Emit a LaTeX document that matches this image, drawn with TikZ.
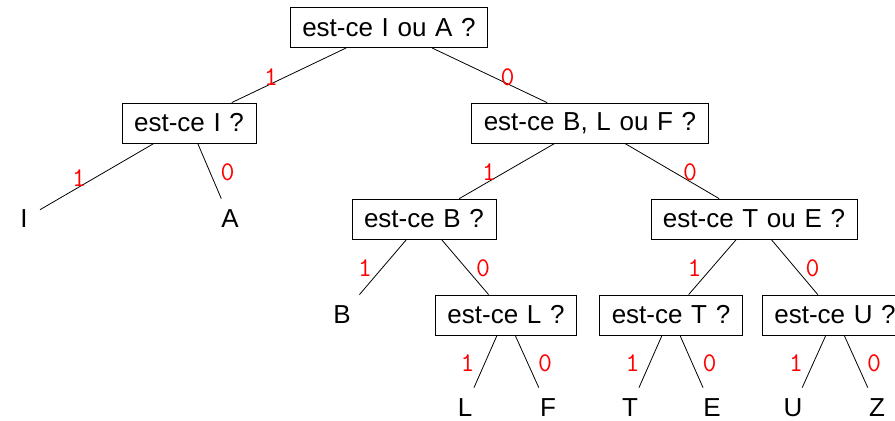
\documentclass[tikz,border=0pt]{standalone}
\usepackage{fontspec}
\setmainfont[WordSpace=1.2]{Liberation Sans}
\begin{document}
\begin{tikzpicture}[x=0.5pt, y=-0.5pt, font=\fontsize{13}{15}\selectfont,
		box/.style={draw, minimum height=20pt, inner xsep=6pt},
		leaf/.style={minimum height=20pt, inner xsep=6pt},
		bit/.style={text=red, font=\fontsize{13.5}{15}\selectfont\ttfamily, midway, yshift=-0.75pt}]
		\useasboundingbox (0,0) rectangle (895,420);
		% questions
		\node[box] (root) at (389,27.5) {est-ce I ou A~?};
		\node[box] (isI) at (189,123) {est-ce I~?};
		\node[box] (isBLF) at (590,123) {est-ce B, L ou F~?};
		\node[box] (isB) at (424,219) {est-ce B~?};
		\node[box] (isTE) at (754,219) {est-ce T ou E~?};
		\node[box] (isL) at (506,315) {est-ce L~?};
		\node[box] (isT) at (671,315) {est-ce T~?};
		\node[box] (isU) at (835,315) {est-ce U~?};
		% letters
		\node[leaf] (I) at (24,219) {I};
		\node[leaf] (A) at (230,219) {A};
		\node[leaf] (B) at (342,315) {B};
		\foreach \l/\x in {L/465, F/548, T/630, E/712, U/793, Z/877} {
			\node[leaf] (\l) at (\x,408) {\l};
		};
		% branches
		\foreach \u/\v in {root/isI, isI/I, isBLF/isB, isB/B, isTE/isT, isL/L, isT/T, isU/U} {
			\draw (\u) -- (\v) node[bit, xshift=-9pt] {1};
		};
		\foreach \u/\v in {root/isBLF, isI/A, isBLF/isTE, isB/isL, isTE/isU, isL/F, isT/E, isU/Z} {
			\draw (\u) -- (\v) node[bit, xshift=9pt] {0};
		};
\end{tikzpicture}
\end{document}
